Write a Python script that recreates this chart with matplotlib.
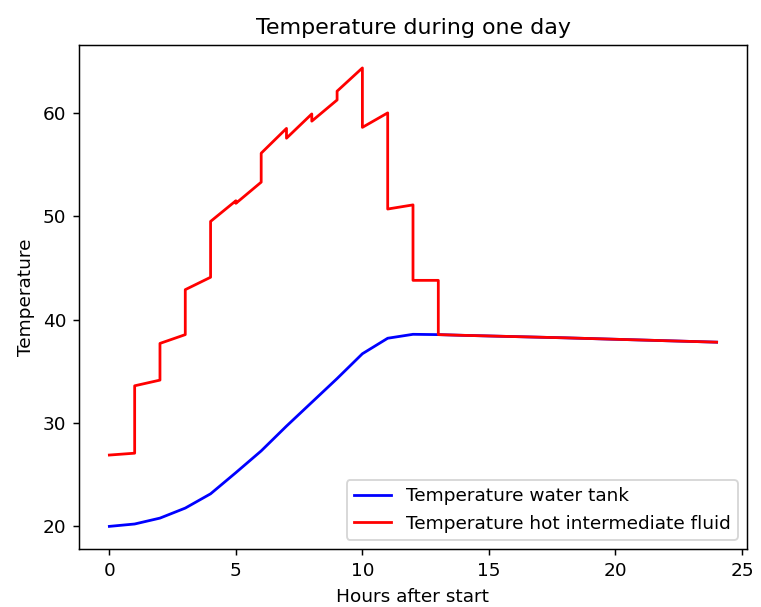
import matplotlib
matplotlib.use("Agg")
import matplotlib.pyplot as plt

# Hourly water tank temperature
hours_tank = list(range(0, 25))
temp_tank = [20.0, 20.23, 20.8, 21.77, 23.15, 25.2, 27.3, 29.7, 32.0, 34.3,
             36.7, 38.2, 38.58, 38.55, 38.48, 38.42, 38.36, 38.3, 38.24,
             38.17, 38.1, 38.03, 37.96, 37.89, 37.82]

# Intermediate fluid: value just before and just after each hourly switch
hours_fluid = [0, 1, 1, 2, 2, 3, 3, 4, 4, 5, 5, 6, 6, 7, 7, 8, 8, 9, 9,
               10, 10, 11, 11, 12, 12, 13, 13,
               14, 15, 16, 17, 18, 19, 20, 21, 22, 23, 24]
temp_fluid = [26.9, 27.08, 33.6, 34.15, 37.7, 38.55, 42.9, 44.1, 49.5,
              51.5, 51.25, 53.3, 56.1, 58.5, 57.55, 59.9, 59.2, 61.25, 62.1,
              64.35, 58.6, 60.0, 50.7, 51.1, 43.8, 43.8, 38.55,
              38.48, 38.42, 38.36, 38.3, 38.24, 38.17, 38.1, 38.03, 37.96,
              37.89, 37.82]

W, H, DPI = 761, 607, 133
fig = plt.figure(figsize=(W / DPI, H / DPI), dpi=DPI)
ax = fig.add_axes([79 / W, 57.7 / H, 668 / W, 504.3 / H])

ax.plot(hours_tank, temp_tank, color="blue", label="Temperature water tank")
ax.plot(hours_fluid, temp_fluid, color="red",
        label="Temperature hot intermediate fluid")

ax.set_title("Temperature during one day")
ax.set_xlabel("Hours after start")
ax.set_ylabel("Temperature")
ax.legend(loc="lower right")

fig.savefig("out.png", dpi=DPI)
